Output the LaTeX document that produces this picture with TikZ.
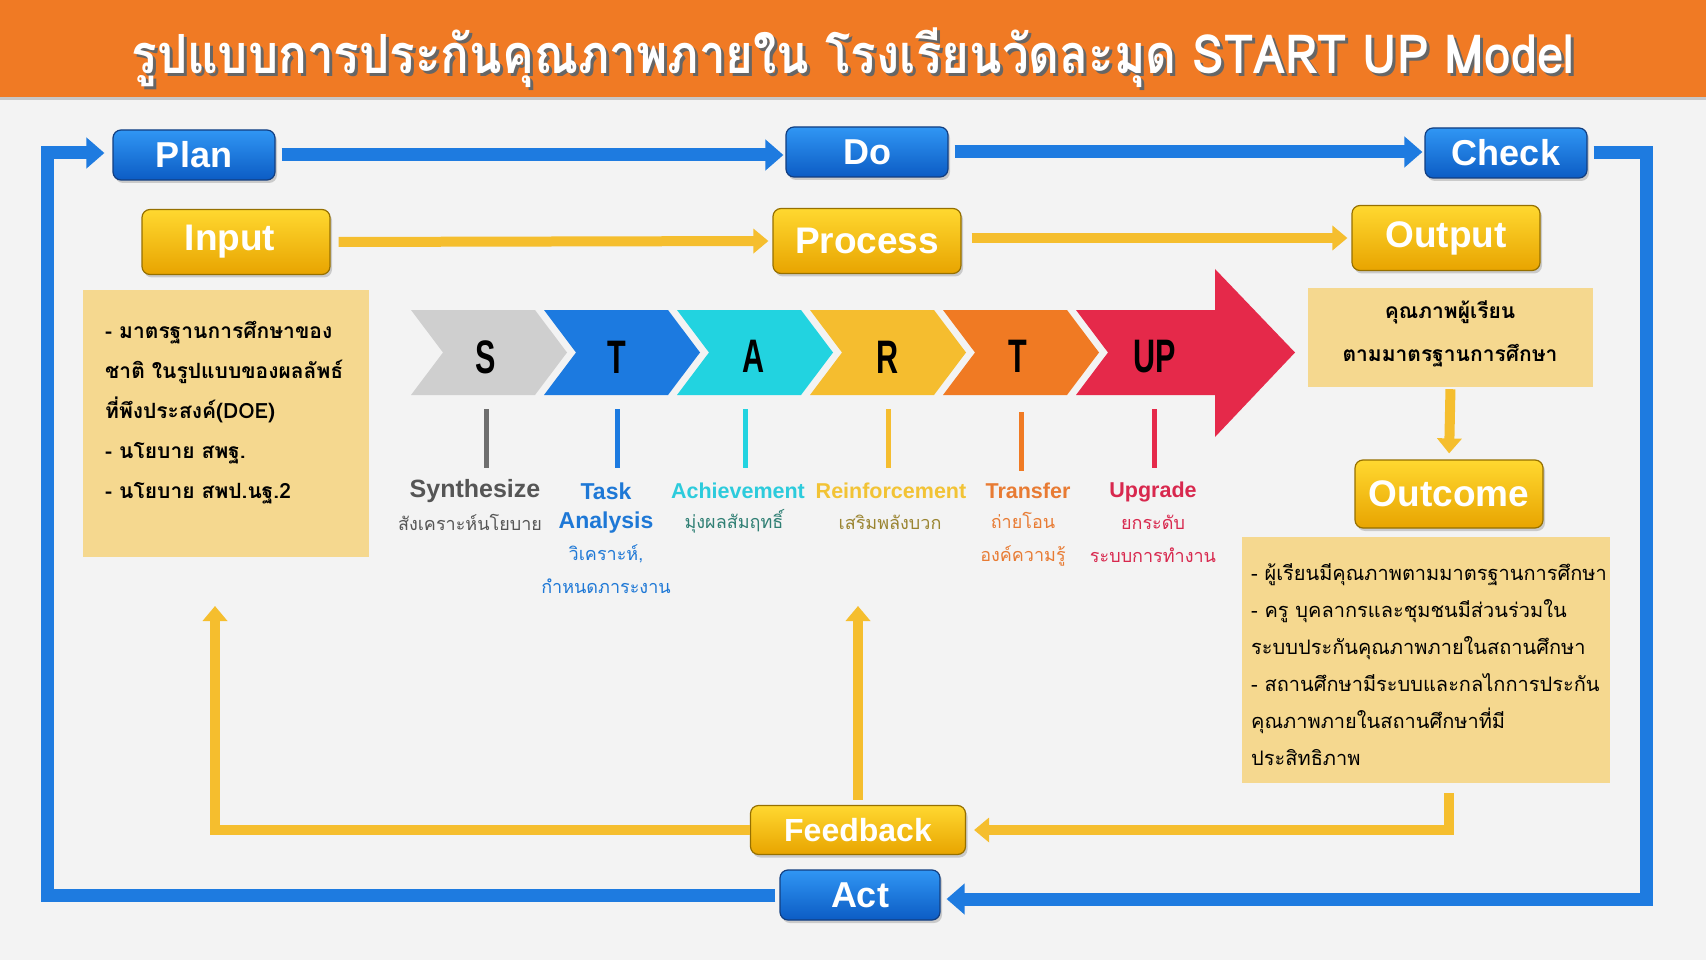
\documentclass[tikz,border=0pt]{standalone}
\usepackage{fontspec}
\setmainfont{Liberation Sans}
\newfontfamily\thai[Script=Thai]{Loma}
\usetikzlibrary{arrows.meta,shadows,positioning}
\definecolor{bgGray}{RGB}{243,243,243}
\definecolor{titleOrange}{RGB}{240,122,36}
\definecolor{lineBlue}{RGB}{30,123,224}
\definecolor{lineGold}{RGB}{245,190,46}
\definecolor{tanFill}{RGB}{245,216,143}
\definecolor{btnBlueTop}{RGB}{48,150,244}
\definecolor{btnBlueBot}{RGB}{12,92,196}
\definecolor{btnBlueEdge}{RGB}{18,62,128}
\definecolor{btnGoldTop}{RGB}{255,216,48}
\definecolor{btnGoldBot}{RGB}{232,164,0}
\definecolor{btnGoldEdge}{RGB}{150,112,0}
\definecolor{chevGray}{RGB}{207,207,207}
\definecolor{chevBlue}{RGB}{28,122,224}
\definecolor{chevCyan}{RGB}{34,211,224}
\definecolor{chevGold}{RGB}{245,189,47}
\definecolor{chevOrange}{RGB}{240,122,35}
\definecolor{chevRed}{RGB}{229,41,74}
\definecolor{synthGray}{RGB}{85,85,85}
\definecolor{taskBlue}{RGB}{30,120,214}
\definecolor{achCyan}{RGB}{44,203,220}
\definecolor{achTeal}{RGB}{47,127,116}
\definecolor{reinGold}{RGB}{242,195,53}
\definecolor{reinOlive}{RGB}{154,132,48}
\definecolor{transOrange}{RGB}{232,123,51}
\definecolor{upRed}{RGB}{216,40,78}

\begin{document}
\begin{tikzpicture}[x=1pt, y=-1pt,
    bluebtn/.style={rounded corners=8pt, draw=btnBlueEdge, line width=1.2pt,
      top color=btnBlueTop, bottom color=btnBlueBot, text=white, inner sep=0pt,
      font=\bfseries\fontsize{36}{40}\selectfont, minimum width=162pt, minimum height=50pt,
      drop shadow={opacity=0.35, shadow xshift=2pt, shadow yshift=-3pt}},
    goldbtn/.style={rounded corners=8pt, draw=btnGoldEdge, line width=1.2pt,
      top color=btnGoldTop, bottom color=btnGoldBot, text=white, inner sep=0pt,
      font=\bfseries\fontsize{37}{40}\selectfont, minimum width=188pt, minimum height=65pt,
      drop shadow={opacity=0.35, shadow xshift=2pt, shadow yshift=-3pt}},
    tanbox/.style={fill=tanFill, inner sep=0pt},
    boxtext/.style={font=\thai\bfseries\fontsize{21}{40}\selectfont, align=left, inner sep=0pt},
    blueline/.style={draw=lineBlue, line width=13pt, -{Triangle[width=30pt,length=18pt]}},
    goldline/.style={draw=lineGold, line width=10pt, -{Triangle[width=24pt,length=15pt]}},
    tickline/.style={line width=5pt},
    keylbl/.style={font=\bfseries\fontsize{21.5}{29}\selectfont, align=center, inner sep=0pt},
    sublbl/.style={font=\thai\fontsize{18}{33}\selectfont, align=center, inner sep=0pt},
    letter/.style={font=\bfseries\fontsize{47}{50}\selectfont, text=black, inner sep=0pt}
  ]
  \useasboundingbox (0,0) rectangle (1706,960);
  \fill[bgGray] (0,0) rectangle (1706,960);
  % title bar
  \fill[titleOrange] (0,0) rectangle (1706,97);
  \fill[black!22] (0,97) rectangle (1706,100);
  \node[font=\thai\bfseries\fontsize{54}{60}\selectfont, text=black!60] (titleshade) at (856,61)
    {\resizebox{1443pt}{\height}{รูปแบบการประกันคุณภาพภายใน โรงเรียนวัดละมุด START UP Model}};
  \node[font=\thai\bfseries\fontsize{54}{60}\selectfont, text=white] (title) at (853,58)
    {\resizebox{1443pt}{\height}{รูปแบบการประกันคุณภาพภายใน โรงเรียนวัดละมุด START UP Model}};

  % PDCA buttons
  \node[bluebtn] (plan) at (194,155) {Plan};
  \node[bluebtn] (do) at (867,152) {Do};
  \node[bluebtn] (check) at (1506,153) {Check};
  \node[bluebtn, minimum width=160pt] (act) at (860,895) {Act};

  % IPO buttons
  \node[goldbtn] (input) at (236,242) {\hspace*{-12pt}Input};
  \node[goldbtn] (process) at (867,241) {Process};
  \node[goldbtn] (output) at (1446,238) {Output};
  \node[goldbtn, minimum height=68pt] (outcome) at (1449,494) {Outcome};
  \node[goldbtn, minimum width=215pt, minimum height=49pt, font=\bfseries\fontsize{32}{36}\selectfont] (feedback) at (858,830) {Feedback};

  % tan boxes
  \node[tanbox, minimum width=286pt, minimum height=267pt] (inbox) at (226,423.5) {};
  \node[boxtext, anchor=north west] (intext) at (105,321)
    {- มาตรฐานการศึกษาของ\\ชาติ ในรูปแบบของผลลัพธ์\\ที่พึงประสงค์(DOE)\\- นโยบาย สพฐ.\\- นโยบาย สพป.นฐ.2};
  \node[tanbox, minimum width=285pt, minimum height=99pt] (outbox) at (1450.5,337.5) {};
  \node[boxtext, align=center, font=\thai\bfseries\fontsize{21}{43}\selectfont] (outtext) at (1450,334)
    {คุณภาพผู้เรียน\\ตามมาตรฐานการศึกษา};
  \node[tanbox, minimum width=368pt, minimum height=246pt] (ocbox) at (1426,660) {};
  \node[boxtext, anchor=north west, font=\thai\fontsize{20}{37}\selectfont] (octext) at (1251,563)
    {- ผู้เรียนมีคุณภาพตามมาตรฐานการศึกษา\\- ครู บุคลากรและชุมชนมีส่วนร่วมใน\\ระบบประกันคุณภาพภายในสถานศึกษา\\- สถานศึกษามีระบบและกลไกการประกัน\\คุณภาพภายในสถานศึกษาที่มี\\ประสิทธิภาพ};

  % START UP chevrons
  \fill[chevGray] (411,310) -- ++(124,0) -- ++(32,42.5) -- ++(-32,42.5) -- ++(-124,0) -- ++(32,-42.5) -- cycle;
  \fill[chevBlue] (544,310) -- ++(124,0) -- ++(32,42.5) -- ++(-32,42.5) -- ++(-124,0) -- ++(32,-42.5) -- cycle;
  \fill[chevCyan] (677,310) -- ++(124,0) -- ++(32,42.5) -- ++(-32,42.5) -- ++(-124,0) -- ++(32,-42.5) -- cycle;
  \fill[chevGold] (810,310) -- ++(124,0) -- ++(32,42.5) -- ++(-32,42.5) -- ++(-124,0) -- ++(32,-42.5) -- cycle;
  \fill[chevOrange] (943,310) -- ++(124,0) -- ++(32,42.5) -- ++(-32,42.5) -- ++(-124,0) -- ++(32,-42.5) -- cycle;
  \fill[chevRed] (1076,310) -- (1215,310) -- (1215,269) -- (1295,352.5) -- (1215,437) -- (1215,395) -- (1076,395) -- (1108,352.5) -- cycle;
  \node[letter] (ls) at (486,357) {\scalebox{0.65}[1]{S}};
  \node[letter] (lt) at (617,357) {\scalebox{0.65}[1]{T}};
  \node[letter] (la) at (754,356) {\scalebox{0.65}[1]{A}};
  \node[letter] (lr) at (888,357) {\scalebox{0.65}[1]{R}};
  \node[letter] (ltt) at (1018,356) {\scalebox{0.65}[1]{T}};
  \node[letter] (lup) at (1155,357) {\scalebox{0.65}[1]{UP}};

  % ticks
  \draw[tickline, synthGray!85] (486,409) -- (486,468);
  \draw[tickline, chevBlue] (617,409) -- (617,468);
  \draw[tickline, chevCyan] (745,409) -- (745,468);
  \draw[tickline, chevGold] (888,409) -- (888,468);
  \draw[tickline, chevOrange] (1021,412) -- (1021,471);
  \draw[tickline, chevRed] (1154,409) -- (1154,468);

  % labels
  \node[keylbl, text=synthGray, font=\bfseries\fontsize{25}{29}\selectfont] (synth) at (475,491) {Synthesize};
  \node[sublbl, text=synthGray] (synthth) at (470,522) {สังเคราะห์นโยบาย};
  \node[keylbl, text=taskBlue, font=\bfseries\fontsize{23}{29}\selectfont] (task) at (606,508) {Task\\Analysis};
  \node[sublbl, text=taskBlue] (taskth) at (606,569) {วิเคราะห์,\\กำหนดภาระงาน};
  \node[keylbl, text=achCyan] (ach) at (738,491) {Achievement};
  \node[sublbl, text=achTeal] (achth) at (734,521) {มุ่งผลสัมฤทธิ์};
  \node[keylbl, text=reinGold] (rein) at (891,491) {Reinforcement};
  \node[sublbl, text=reinOlive] (reinth) at (890,522) {เสริมพลังบวก};
  \node[keylbl, text=transOrange] (trans) at (1028,491) {Transfer};
  \node[sublbl, text=transOrange] (transth) at (1023,539) {ถ่ายโอน\\องค์ความรู้};
  \node[keylbl, text=upRed] (upg) at (1153,492) {Upgrade};
  \node[sublbl, text=upRed] (upgth) at (1153,539) {ยกระดับ\\ระบบการทำงาน};

  % PDCA loop
  \coordinate (rtc) at (1646,899);
  \coordinate (ltc) at (47,153);
  \draw[blueline, shorten <=6pt, shorten >=2pt] (plan.east) -- (plan.east -| do.west);
  \draw[blueline, shorten <=6pt, shorten >=2pt] (do.east) -- (do.east -| check.west);
  \draw[blueline, shorten <=6pt, shorten >=6pt] (check.east) -| (rtc) -- (rtc -| act.east);
  \draw[blueline, shorten <=4pt, shorten >=8pt] (act.west) -| (ltc) -- (ltc -| plan.west);

  % IPO flow
  \coordinate (fbl) at (215,606);
  \draw[goldline, shorten <=8pt, shorten >=4pt] (input.east) -- (process.west);
  \draw[goldline, shorten <=10pt, shorten >=4pt] (output.west -| process.east) -- (output.west);
  \draw[goldline, shorten <=2pt, shorten >=6pt] (outbox.south) -- (outcome.north);
  \draw[goldline, shorten <=10pt, shorten >=8pt] (ocbox.south -| outcome.south) |- (feedback.east);
  \draw[goldline] (feedback.west) -| (fbl);
  \draw[goldline, shorten <=5pt] (feedback.north) -- (feedback.north |- fbl);
\end{tikzpicture}
\end{document}
